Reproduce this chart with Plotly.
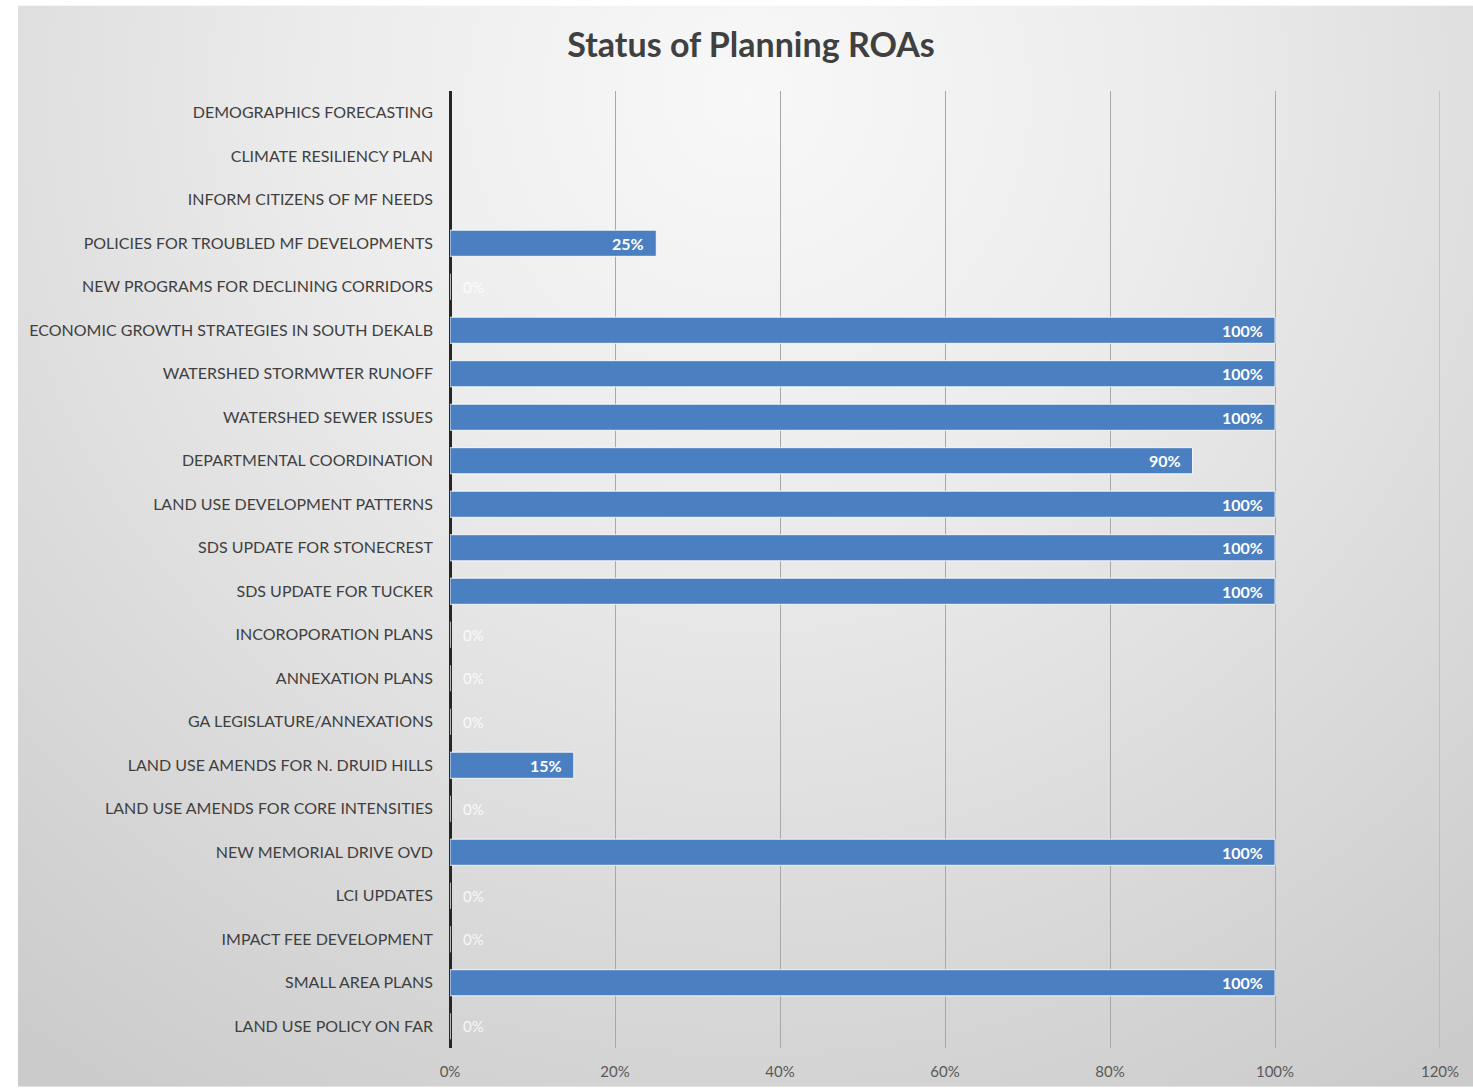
import base64
import plotly.graph_objects as go

# Planning ROAs, listed top to bottom as they appear on the chart
categories = [
    "DEMOGRAPHICS FORECASTING",
    "CLIMATE RESILIENCY PLAN",
    "INFORM CITIZENS OF MF NEEDS",
    "POLICIES FOR TROUBLED MF DEVELOPMENTS",
    "NEW PROGRAMS FOR DECLINING CORRIDORS",
    "ECONOMIC GROWTH STRATEGIES IN SOUTH DEKALB",
    "WATERSHED STORMWTER RUNOFF",
    "WATERSHED SEWER ISSUES",
    "DEPARTMENTAL COORDINATION",
    "LAND USE DEVELOPMENT PATTERNS",
    "SDS UPDATE FOR STONECREST",
    "SDS UPDATE FOR TUCKER",
    "INCOROPORATION PLANS",
    "ANNEXATION PLANS",
    "GA LEGISLATURE/ANNEXATIONS",
    "LAND USE AMENDS FOR N. DRUID HILLS",
    "LAND USE AMENDS FOR CORE INTENSITIES",
    "NEW MEMORIAL DRIVE OVD",
    "LCI UPDATES",
    "IMPACT FEE DEVELOPMENT",
    "SMALL AREA PLANS",
    "LAND USE POLICY ON FAR",
]

# Completion share (None = no status reported)
completion = [
    None, None, None, 0.25, 0.0, 1.0, 1.0, 1.0, 0.90, 1.0, 1.0,
    1.0, 0.0, 0.0, 0.0, 0.15, 0.0, 1.0, 0.0, 0.0, 1.0, 0.0,
]

x_ticks = [0, 0.2, 0.4, 0.6, 0.8, 1.0, 1.2]
x_tick_labels = ["0%", "20%", "40%", "60%", "80%", "100%", "120%"]

FONT = "Lato, 'Open Sans', sans-serif"
BAR_BLUE = "#4a7fc1"
GRID = "#a8a8a8"

fig = go.Figure()
fig.add_trace(go.Bar(
    y=categories,
    x=completion,
    orientation="h",
    marker=dict(color=BAR_BLUE, line=dict(color="rgba(255,255,255,0.85)", width=1)),
    hoverinfo="skip",
))

# data labels: bold white just inside the bar end; faint white for zero values
annotations = []
for cat, v in zip(categories, completion):
    if v is None:
        continue
    if v > 0:
        annotations.append(dict(
            x=v, y=cat, xref="x", yref="y",
            text=f"<b>{v:.0%}</b>", showarrow=False,
            xanchor="right", xshift=-10,
            font=dict(family=FONT, size=16, color="white"),
        ))
    else:
        annotations.append(dict(
            x=v, y=cat, xref="x", yref="y",
            text=f"{v:.0%}", showarrow=False,
            xanchor="left", xshift=11,
            font=dict(family=FONT, size=15, color="rgba(255,255,255,0.85)"),
        ))

# soft radial grey background behind the whole chart
svg = (
    '<svg xmlns="http://www.w3.org/2000/svg" width="1455" height="1087" '
    'viewBox="0 0 1455 1087" preserveAspectRatio="none">'
    '<defs><radialGradient id="g" gradientUnits="userSpaceOnUse" cx="730" cy="90" r="1200">'
    '<stop offset="0" stop-color="#f8f8f8"/>'
    '<stop offset="0.35" stop-color="#ececec"/>'
    '<stop offset="1" stop-color="#cbcbcb"/>'
    '</radialGradient></defs>'
    '<rect width="1455" height="1087" fill="url(#g)"/>'
    '</svg>'
)
bg_uri = "data:image/svg+xml;base64," + base64.b64encode(svg.encode()).decode()

W, H = 1473, 1092
ML, MR, MT, MB = 450, 33, 91, 39
pw, ph = W - ML - MR, H - MT - MB

fig.update_layout(
    width=W, height=H,
    margin=dict(l=ML, r=MR, t=MT, b=MB, pad=0),
    paper_bgcolor="white",
    plot_bgcolor="rgba(0,0,0,0)",
    showlegend=False,
    bargap=0.4,
    title=dict(
        text="<b>Status of Planning ROAs</b>",
        x=751 / W, xref="container", xanchor="center",
        y=1 - 45 / H, yref="container", yanchor="middle",
        font=dict(family=FONT, size=34, color="#404040"),
    ),
    xaxis=dict(
        range=[0, 1.2],
        tickvals=x_ticks, ticktext=x_tick_labels,
        showgrid=True, gridcolor=GRID, gridwidth=1,
        zeroline=True, zerolinecolor="#262626", zerolinewidth=2.5,
        showline=False, ticks="",
        ticklabelstandoff=13,
        tickfont=dict(family=FONT, size=15, color="#595959"),
        fixedrange=True,
    ),
    yaxis=dict(
        categoryorder="array", categoryarray=categories,
        autorange="reversed",
        showgrid=False, zeroline=False, showline=False, ticks="",
        ticklabelstandoff=16,
        tickfont=dict(family=FONT, size=16, color="#404040"),
        fixedrange=True,
    ),
    annotations=annotations,
    # the last gridline sits on the plot edge, so draw it explicitly
    shapes=[dict(
        type="line", xref="x", yref="paper",
        x0=x_ticks[-1], x1=x_ticks[-1], y0=0, y1=1,
        line=dict(color=GRID, width=1), layer="below",
    )],
    images=[dict(
        source=bg_uri, xref="paper", yref="paper",
        x=(18 - ML) / pw, y=(H - MB - 5) / ph,
        sizex=(W - 18) / pw, sizey=(H - 5) / ph,
        xanchor="left", yanchor="top",
        sizing="stretch", layer="below",
    )],
)

fig.write_html("out.html")
